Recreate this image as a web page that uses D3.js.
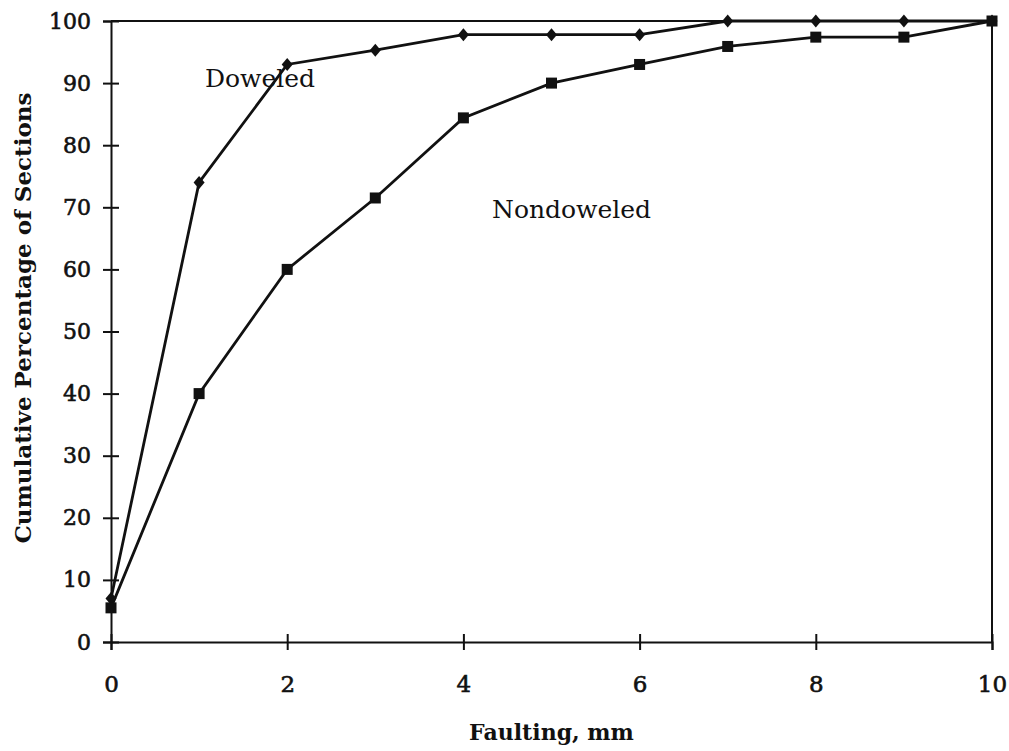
<html>
<script src="https://d3js.org/d3.v7.min.js"></script>
<style>
    body { margin: 0; background: #fff; }
    text { font-family: "DejaVu Serif", serif; fill: #111; }
</style>
<body>
<svg id="chart" width=1009 height=751></svg>
<script>
// data
var faulting = [0, 1, 2, 3, 4, 5, 6, 7, 8, 9, 10];
var doweled = [7, 74, 93, 95.3, 97.8, 97.8, 97.8, 100, 100, 100, 100];
var nondoweled = [5.5, 40, 60, 71.5, 84.4, 90, 93, 95.9, 97.4, 97.4, 100];
var xTicks = [0, 2, 4, 6, 8, 10];
var yTicks = [0, 10, 20, 30, 40, 50, 60, 70, 80, 90, 100];

var svg = d3.select("#chart");
var x = d3.scaleLinear().domain([0, 10]).range([111, 992]);
var y = d3.scaleLinear().domain([0, 100]).range([642, 21]);
var ink = "#111";

// frame (top and right)
svg.append("line")
    .attr("x1", x(0)).attr("x2", x(10))
    .attr("y1", y(100)).attr("y2", y(100))
    .attr("stroke", ink).attr("stroke-width", 2);
svg.append("line")
    .attr("x1", x(10)).attr("x2", x(10))
    .attr("y1", y(100)).attr("y2", y(0))
    .attr("stroke", ink).attr("stroke-width", 2);

// y axis
var yAxis = svg.append("g")
    .attr("transform", "translate(" + x(0) + ",0)")
    .call(d3.axisLeft(y).tickValues(yTicks).tickSize(8).tickPadding(12));
yAxis.select(".domain").attr("stroke", ink).attr("stroke-width", 2);
yAxis.selectAll(".tick line").attr("x1", 8).attr("stroke", ink).attr("stroke-width", 2);
yAxis.selectAll(".tick text")
    .style("font-family", "DejaVu Serif").style("font-size", "22px")
    .attr("fill", ink).attr("stroke", ink).attr("stroke-width", 0.6);

// x axis
var xAxis = svg.append("g")
    .attr("transform", "translate(0," + y(0) + ")")
    .call(d3.axisBottom(x).tickValues(xTicks).tickSize(8).tickPadding(26));
xAxis.select(".domain").attr("stroke", ink).attr("stroke-width", 2);
xAxis.selectAll(".tick line").attr("y1", -8).attr("stroke", ink).attr("stroke-width", 2);
xAxis.selectAll(".tick text")
    .style("font-family", "DejaVu Serif").style("font-size", "23px")
    .attr("fill", ink).attr("stroke", ink).attr("stroke-width", 0.6);

// axis titles
svg.append("text")
    .attr("x", x(5)).attr("y", 740)
    .attr("text-anchor", "middle")
    .style("font-size", "22px").style("font-weight", "bold")
    .text("Faulting, mm");

svg.append("text")
    .attr("transform", "translate(31,318) rotate(-90)")
    .attr("text-anchor", "middle")
    .style("font-size", "23px").style("font-weight", "bold")
    .text("Cumulative Percentage of Sections");

// lines
var line = d3.line()
    .x(function(d) { return x(d[0]); })
    .y(function(d) { return y(d[1]); });

var dowPts = faulting.map(function(f, i) { return [f, doweled[i]]; });
var nonPts = faulting.map(function(f, i) { return [f, nondoweled[i]]; });

svg.append("path").datum(dowPts)
    .attr("d", line).attr("fill", "none")
    .attr("stroke", ink).attr("stroke-width", 2.8);
svg.append("path").datum(nonPts)
    .attr("d", line).attr("fill", "none")
    .attr("stroke", ink).attr("stroke-width", 2.8);

// markers
svg.selectAll(".diamond")
    .data(dowPts)
    .enter().append("path")
    .attr("class", "diamond")
    .attr("transform", function(d) { return "translate(" + x(d[0]) + "," + y(d[1]) + ")"; })
    .attr("d", "M0,-6.5L5.5,0L0,6.5L-5.5,0Z")
    .attr("fill", ink);

svg.selectAll(".square")
    .data(nonPts)
    .enter().append("rect")
    .attr("class", "square")
    .attr("x", function(d) { return x(d[0]) - 5.5; })
    .attr("y", function(d) { return y(d[1]) - 5.5; })
    .attr("width", 11).attr("height", 11)
    .attr("fill", ink);

// series labels
svg.append("text")
    .attr("x", 205).attr("y", 87)
    .style("font-size", "25px")
    .text("Doweled");
svg.append("text")
    .attr("x", 492).attr("y", 218)
    .style("font-size", "25px")
    .text("Nondoweled");
</script>
</body>
</html>
